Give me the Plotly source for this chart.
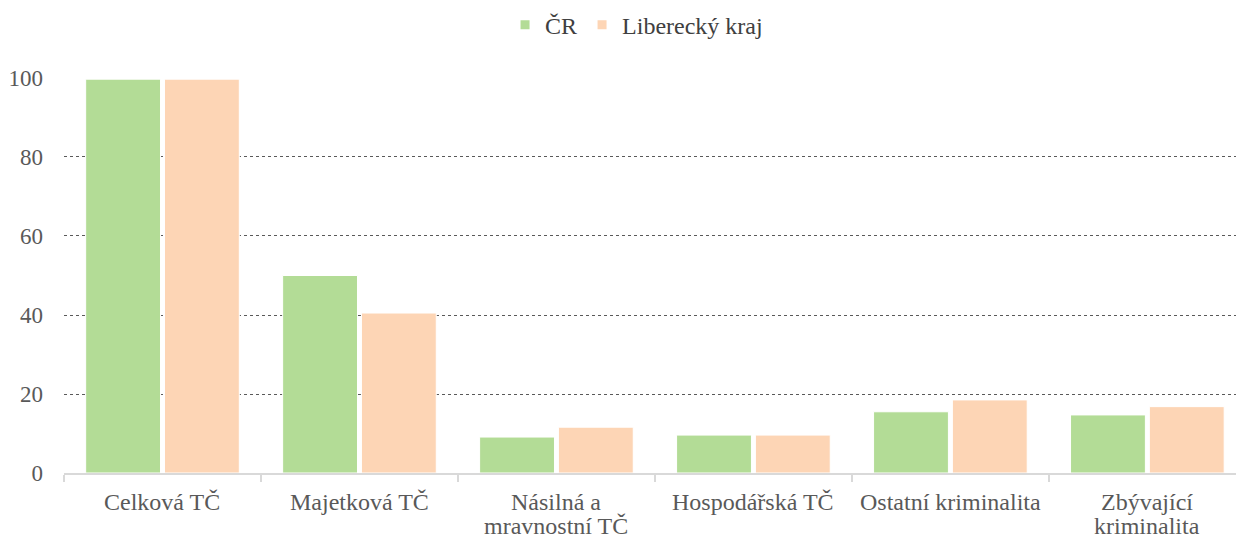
import plotly.graph_objects as go

categories = ["Celková TČ", "Majetková TČ", "Násilná a<br>mravnostní TČ", "Hospodářská TČ",
              "Ostatní kriminalita", "Zbývající<br>kriminalita"]
cr_values = [99.7, 50, 9.1, 9.6, 15.5, 14.7]
lib_values = [99.7, 40.5, 11.6, 9.6, 18.5, 16.8]
y_ticks = [0, 20, 40, 60, 80, 100]

FONT = "Liberation Serif"
GREEN = "#b3dc96"
ORANGE = "#fdd5b5"

fig = go.Figure()
fig.add_trace(go.Bar(name="ČR", x=categories, y=cr_values, showlegend=False,
                     marker=dict(color=GREEN, line=dict(color="white", width=1))))
fig.add_trace(go.Bar(name="Liberecký kraj", x=categories, y=lib_values, showlegend=False,
                     marker=dict(color=ORANGE, line=dict(color="white", width=1))))
# legend entries with small square markers
fig.add_trace(go.Scatter(name="ČR", x=[None], y=[None], mode="markers",
                         marker=dict(symbol="square", size=9, color=GREEN)))
fig.add_trace(go.Scatter(name="Liberecký kraj", x=[None], y=[None], mode="markers",
                         marker=dict(symbol="square", size=9, color=ORANGE)))

# category labels as annotations (tighter line spacing than tick labels)
for cat in categories:
    for i, line in enumerate(cat.split("<br>")):
        fig.add_annotation(x=cat, y=0, xref="x", yref="paper", text=line, showarrow=False,
                           xanchor="center", yanchor="middle", yshift=-29 - 24 * i,
                           font=dict(family=FONT, size=24, color="#595959"))

fig.update_layout(
    width=1236, height=538,
    margin=dict(l=64, r=0, t=77, b=65, autoexpand=False),
    plot_bgcolor="white", paper_bgcolor="white",
    barmode="group", bargap=0.2, bargroupgap=0.05,
    font=dict(family=FONT, size=23, color="#595959"),
    legend=dict(orientation="h", x=0.515, xref="container", xanchor="center",
                y=0.995, yref="container", yanchor="top",
                font=dict(family=FONT, size=24, color="#404040"),
                itemwidth=30, traceorder="normal"),
    showlegend=True,
)
fig.update_xaxes(
    range=[-0.5, 5.45], showgrid=False, showline=True, linecolor="#d9d9d9", linewidth=2,
    ticks="outside", tickson="boundaries", ticklen=7, tickcolor="#d9d9d9", tickwidth=2,
    showticklabels=False, automargin=False,
)
fig.update_yaxes(
    range=[0, 100.25], tickvals=y_ticks, showgrid=True, gridcolor="#595959", griddash="dot",
    gridwidth=1, zeroline=False, showline=False, ticks="",
    ticklabelstandoff=20, automargin=False,
    tickfont=dict(family=FONT, size=23, color="#595959"),
)

fig.write_html("out.html", config={"displayModeBar": False},
               post_script="document.body.style.margin='0';")
